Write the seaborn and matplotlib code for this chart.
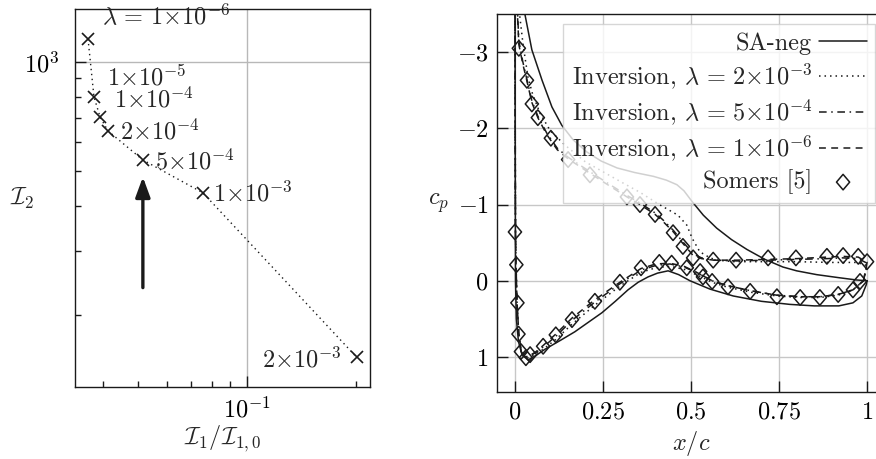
import matplotlib
matplotlib.use("Agg")
import matplotlib.pyplot as plt
import seaborn as sns
from matplotlib.ticker import FixedLocator, FuncFormatter, NullFormatter, LogLocator
from matplotlib.path import Path

# ---------------- data: left panel (L-curve) ----------------
lam_labels = [r"$\lambda \,=\, 1{\times}10^{-6}$", r"$1{\times}10^{-5}$", r"$1{\times}10^{-4}$",
              r"$2{\times}10^{-4}$", r"$5{\times}10^{-4}$", r"$1{\times}10^{-3}$",
              r"$2{\times}10^{-3}$"]
I1_ratio = [0.0364, 0.0378, 0.0393, 0.0413, 0.0516, 0.0756, 0.201]
I2 = [1157, 800, 705, 645, 536, 435, 153]
arrow_x = [0.0516, 0.0516]
arrow_y = [238, 481]

# ---------------- data: right panel (pressure coefficient) ----------------
exp_upper_x = [0.011, 0.034, 0.048, 0.065, 0.102, 0.151, 0.213, 0.318, 0.355, 0.398, 0.449,
               0.477, 0.506, 0.563, 0.628, 0.719, 0.798, 0.886, 0.932, 0.975, 1.0]
exp_upper_cp = [-3.05, -2.63, -2.32, -2.14, -1.87, -1.59, -1.39, -1.10, -1.00, -0.87, -0.63,
                -0.45, -0.30, -0.27, -0.27, -0.30, -0.30, -0.32, -0.33, -0.32, -0.25]
exp_lower_x = [0.0, 0.004, 0.007, 0.010, 0.017, 0.031, 0.043, 0.080, 0.116, 0.162, 0.227,
               0.298, 0.358, 0.410, 0.445, 0.488, 0.526, 0.534, 0.560, 0.605, 0.668, 0.744,
               0.810, 0.866, 0.918, 0.960, 0.980]
exp_lower_cp = [-0.64, -0.21, 0.29, 0.70, 0.93, 1.01, 0.97, 0.86, 0.71, 0.51, 0.27,
                0.02, -0.17, -0.24, -0.23, -0.17, -0.12, -0.05, 0.01, 0.08, 0.14, 0.21,
                0.22, 0.22, 0.18, 0.12, 0.01]

sa_x = [1.0, 0.97, 0.92, 0.857, 0.8, 0.761, 0.71, 0.659, 0.615, 0.573, 0.535, 0.503, 0.48,
        0.46, 0.43, 0.393, 0.34, 0.29, 0.245, 0.204, 0.165, 0.133, 0.105, 0.077, 0.048,
        0.026, 0.012, 0.004, 0.0,
        0.0003, 0.0008, 0.0015, 0.004, 0.01, 0.02, 0.037, 0.06, 0.085, 0.13, 0.17, 0.21,
        0.247, 0.285, 0.321, 0.35, 0.378, 0.405, 0.435, 0.465, 0.497, 0.554, 0.62, 0.7,
        0.78, 0.85, 0.92, 0.96, 0.985, 0.998, 1.0]
sa_cp = [0.0, -0.01, -0.04, -0.08, -0.13, -0.18, -0.28, -0.41, -0.54, -0.69, -0.86, -1.04,
         -1.18, -1.26, -1.32, -1.37, -1.42, -1.48, -1.57, -1.69, -1.85, -2.04, -2.28, -2.63,
         -3.03, -3.55, -4.3, -5.0, -5.5,
         -3.5, -1.5, 0.0, 0.5, 0.8, 0.97, 1.04, 0.98, 0.90, 0.78, 0.67, 0.54,
         0.42, 0.27, 0.12, 0.02, -0.05, -0.10, -0.13, -0.08, 0.0, 0.11, 0.20, 0.27,
         0.31, 0.33, 0.33, 0.29, 0.20, 0.05, 0.0]

inv_2e3_x = [0.99, 1.0, 0.97, 0.9, 0.8, 0.7, 0.62, 0.575, 0.554, 0.525, 0.503, 0.488, 0.463,
             0.41, 0.355, 0.3, 0.2, 0.142, 0.1, 0.071, 0.05, 0.037, 0.023, 0.014, 0.008,
             0.002, 0.0,
             0.0005, 0.001, 0.0015, 0.003, 0.006, 0.011, 0.018, 0.028, 0.04, 0.06, 0.08,
             0.116, 0.162, 0.227, 0.298, 0.358, 0.40, 0.44, 0.48, 0.52, 0.56, 0.6, 0.668,
             0.744, 0.81, 0.866, 0.918, 0.96, 0.99]
inv_2e3_cp = [0.0, -0.2, -0.24, -0.24, -0.25, -0.25, -0.25, -0.27, -0.30, -0.38, -0.56,
              -0.73, -0.86, -1.0, -1.16, -1.3, -1.56, -1.78, -1.97, -2.2, -2.45, -2.67,
              -3.1, -3.46, -4.0, -5.0, -5.5,
              -3.0, -1.5, -0.65, -0.2, 0.3, 0.72, 0.94, 1.02, 1.01, 0.96, 0.90,
              0.77, 0.57, 0.32, 0.07, -0.11, -0.17, -0.19, -0.15, -0.07, 0.02, 0.08, 0.15,
              0.2, 0.22, 0.22, 0.19, 0.12, 0.0]

inv_5e4_x = [0.99, 1.0, 0.975, 0.93, 0.886, 0.80, 0.72, 0.63, 0.565, 0.53, 0.506, 0.49,
             0.475, 0.45, 0.42, 0.398, 0.355, 0.318, 0.26, 0.213, 0.151, 0.12, 0.09, 0.065,
             0.048, 0.034, 0.022, 0.011, 0.006, 0.002, 0.0,
             0.0005, 0.001, 0.0015, 0.003, 0.006, 0.011, 0.018, 0.028, 0.04, 0.06, 0.08,
             0.116, 0.162, 0.227, 0.298, 0.358, 0.40, 0.44, 0.48, 0.52, 0.56, 0.60, 0.668,
             0.744, 0.81, 0.866, 0.918, 0.96, 0.99]
inv_5e4_cp = [0.0, -0.23, -0.29, -0.30, -0.29, -0.28, -0.27, -0.26, -0.27, -0.30, -0.35,
              -0.44, -0.52, -0.66, -0.80, -0.89, -1.02, -1.12, -1.29, -1.43, -1.62, -1.74,
              -1.94, -2.16, -2.36, -2.64, -2.88, -3.15, -3.65, -4.5, -5.5,
              -3.0, -1.5, -0.65, -0.21, 0.29, 0.71, 0.93, 1.0, 0.99, 0.94, 0.87,
              0.73, 0.52, 0.28, 0.04, -0.14, -0.20, -0.22, -0.18, -0.10, 0.0, 0.06, 0.13,
              0.19, 0.21, 0.21, 0.18, 0.12, 0.0]

inv_1e6_x = [0.99, 1.0, 0.975, 0.93, 0.886, 0.80, 0.72, 0.63, 0.565, 0.53, 0.506, 0.49,
             0.475, 0.45, 0.42, 0.398, 0.355, 0.318, 0.26, 0.213, 0.151, 0.12, 0.09, 0.065,
             0.048, 0.034, 0.022, 0.011, 0.006, 0.002, 0.0,
             0.0005, 0.001, 0.0015, 0.003, 0.006, 0.011, 0.018, 0.028, 0.04, 0.06, 0.08,
             0.116, 0.162, 0.227, 0.298, 0.358, 0.40, 0.44, 0.48, 0.52, 0.56, 0.60, 0.668,
             0.744, 0.81, 0.866, 0.918, 0.96, 0.99]
inv_1e6_cp = [0.0, -0.24, -0.31, -0.32, -0.31, -0.29, -0.28, -0.27, -0.27, -0.29, -0.33,
              -0.42, -0.50, -0.64, -0.78, -0.87, -1.0, -1.1, -1.27, -1.41, -1.60, -1.72,
              -1.92, -2.14, -2.34, -2.62, -2.85, -3.1, -3.6, -4.5, -5.5,
              -3.0, -1.5, -0.65, -0.21, 0.29, 0.70, 0.92, 1.0, 0.99, 0.93, 0.85,
              0.70, 0.49, 0.25, 0.02, -0.16, -0.22, -0.23, -0.19, -0.10, 0.0, 0.06, 0.13,
              0.19, 0.21, 0.21, 0.18, 0.12, 0.0]

series_labels = ["SA-neg", r"Inversion, $\lambda \,=\, 2{\times}10^{-3}$",
                 r"Inversion, $\lambda \,=\, 5{\times}10^{-4}$",
                 r"Inversion, $\lambda \,=\, 1{\times}10^{-6}$", "Somers [5]"]

# ---------------- style ----------------
sns.set_theme(style="ticks")
FS = 17.5
plt.rcParams.update({
    "font.family": ["cmr10", "DejaVu Serif"],
    "mathtext.fontset": "cm",
    "axes.formatter.use_mathtext": True,
    "axes.unicode_minus": False,
    "font.size": FS,
    "axes.edgecolor": "0.1",
    "axes.linewidth": 1.0,
    "xtick.direction": "in",
    "ytick.direction": "in",
    "xtick.color": "0.1",
    "ytick.color": "0.1",
    "xtick.labelcolor": "black",
    "ytick.labelcolor": "black",
    "grid.color": "0.78",
    "grid.linewidth": 1.0,
})

W, H = 876, 459
fig = plt.figure(figsize=(W / 100, H / 100), dpi=100)


def px_axes(l, t, r, b):
    return fig.add_axes([l / W, 1 - b / H, (r - l) / W, (b - t) / H])


ax1 = px_axes(75, 9, 370, 387)
ax2 = px_axes(497, 14, 885, 392)

# ---------------- left panel ----------------
ax1.set_xscale("log")
ax1.set_yscale("log")
sns.lineplot(x=I1_ratio, y=I2, ax=ax1, sort=False, estimator=None, color="k", lw=1.0,
             linestyle=(0, (1, 2.6)), marker="x", markersize=9, markeredgewidth=1.2,
             markeredgecolor="k", zorder=3)
label_offsets = [(10, 10, "left"), (9.5, 8.5, "left"), (10, 6.5, "left"), (9, -6.5, "left"),
                 (9, -7, "left"), (7.5, -6.5, "left"), (-11, -7.5, "right")]
for xv, yv, txt, (dx, dy, ha) in zip(I1_ratio, I2, lam_labels, label_offsets):
    ax1.annotate(txt, xy=(xv, yv), xytext=(dx, dy), textcoords="offset points",
                 ha=ha, va="baseline", fontsize=FS)
ax1.annotate("", xy=(arrow_x[1], arrow_y[1]), xytext=(arrow_x[0], arrow_y[0]),
             arrowprops=dict(arrowstyle="-|>,head_length=0.6,head_width=0.22", color="k",
                             lw=2.4, shrinkA=0, shrinkB=0, mutation_scale=20))
ax1.set_xlim(0.0335, 0.219)
ax1.set_ylim(126.5, 1400)
ax1.xaxis.set_major_locator(FixedLocator([0.1]))
ax1.xaxis.set_major_formatter(FuncFormatter(lambda v, p: r"$10^{-1}$"))
ax1.xaxis.set_minor_locator(LogLocator(base=10, subs=range(2, 10)))
ax1.xaxis.set_minor_formatter(NullFormatter())
ax1.yaxis.set_major_locator(FixedLocator([1000]))
ax1.yaxis.set_major_formatter(FuncFormatter(lambda v, p: r"$10^{3}$"))
ax1.yaxis.set_minor_locator(LogLocator(base=10, subs=range(2, 10)))
ax1.yaxis.set_minor_formatter(NullFormatter())
ax1.tick_params(which="major", length=8, width=1.0, labelsize=FS)
ax1.tick_params(which="minor", length=4.5, width=1.0)
ax1.tick_params(axis="y", which="major", pad=11)
ax1.tick_params(axis="x", which="major", pad=7)
ax1.grid(True, which="major", color="0.72", lw=1.0)
ax1.set_axisbelow(True)
ax1.set_xlabel(r"$\mathcal{I}_1/\mathcal{I}_{1,0}$", fontsize=FS, va="top")
ax1.xaxis.set_label_coords(0.5, -0.095)
ax1.set_ylabel(r"$\mathcal{I}_2$", fontsize=FS, rotation=0, ha="center", va="center")
ax1.yaxis.set_label_coords(-0.18, 0.5)
for s in ax1.spines.values():
    s.set_visible(True)

# ---------------- right panel ----------------
sns.lineplot(x=sa_x, y=sa_cp, ax=ax2, sort=False, estimator=None, color="k", lw=1.1,
             label=series_labels[0])
sns.lineplot(x=inv_2e3_x, y=inv_2e3_cp, ax=ax2, sort=False, estimator=None, color="k",
             lw=1.1, linestyle=(0, (1, 2.6)), label=series_labels[1])
sns.lineplot(x=inv_5e4_x, y=inv_5e4_cp, ax=ax2, sort=False, estimator=None, color="k",
             lw=1.1, linestyle=(0, (5, 3, 1, 3)), label=series_labels[2])
sns.lineplot(x=inv_1e6_x, y=inv_1e6_cp, ax=ax2, sort=False, estimator=None, color="k",
             lw=1.1, linestyle=(0, (4.5, 3.5)), label=series_labels[3])

diamond = Path([(0, 1), (0.85, 0), (0, -1), (-0.85, 0), (0, 1)],
               [Path.MOVETO, Path.LINETO, Path.LINETO, Path.LINETO, Path.CLOSEPOLY])
sns.scatterplot(x=exp_upper_x + exp_lower_x, y=exp_upper_cp + exp_lower_cp, ax=ax2,
                marker=diamond, s=125, color="k", facecolor="none", edgecolor="k",
                linewidth=1.1, zorder=4, label=series_labels[4])

ax2.set_xlim(-0.051, 1.051)
ax2.set_ylim(1.46, -3.5)
ax2.xaxis.set_major_locator(FixedLocator([0, 0.25, 0.5, 0.75, 1.0]))
ax2.xaxis.set_major_formatter(FuncFormatter(lambda v, p: "$%s$" % ("%g" % v)))
ax2.yaxis.set_major_locator(FixedLocator([-3, -2, -1, 0, 1]))
ax2.yaxis.set_major_formatter(FuncFormatter(lambda v, p: "$%d$" % round(v)))
ax2.tick_params(which="major", length=8, width=1.0, labelsize=FS)
ax2.tick_params(axis="y", pad=6)
ax2.tick_params(axis="x", pad=7)
ax2.grid(True, which="major", color="0.78", lw=1.0)
ax2.set_axisbelow(True)
ax2.set_xlabel(r"$x/c$", fontsize=FS, va="top")
ax2.xaxis.set_label_coords(0.5, -0.098)
ax2.set_ylabel(r"$c_p$", fontsize=FS, rotation=0, ha="center", va="center")
ax2.yaxis.set_label_coords(-0.152, 0.5)
for s in ax2.spines.values():
    s.set_visible(True)

handles, labels = ax2.get_legend_handles_labels()
leg = ax2.legend(handles, labels, loc="upper right", bbox_to_anchor=(1.0, 1.0),
                 borderaxespad=0.4, markerfirst=False, fancybox=False, framealpha=0.8,
                 edgecolor="0.8", handlelength=1.95, fontsize=FS, scatterpoints=1,
                 labelspacing=0.26, handletextpad=0.3, borderpad=0.35)
leg.get_frame().set_linewidth(1.0)

fig.savefig("out.png", dpi=100)
